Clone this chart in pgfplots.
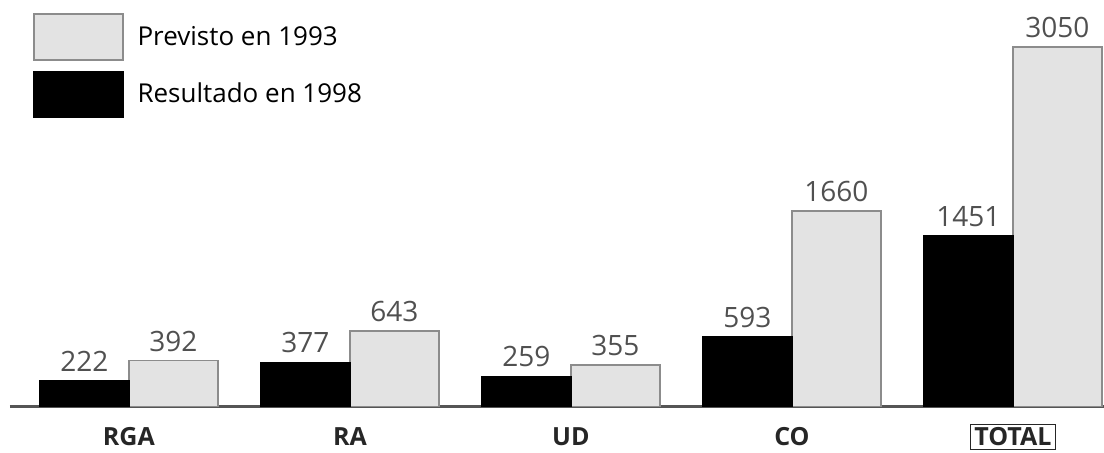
\documentclass[border=0pt]{standalone}
\usepackage{pgfplots}
\pgfplotsset{compat=1.18}
\usepackage{fontspec}
\setmainfont{Open Sans}
\definecolor{barlight}{HTML}{E3E3E3}
\definecolor{baredge}{HTML}{8C8C8C}
\definecolor{numgray}{HTML}{505050}
\definecolor{axisgray}{HTML}{555555}
\pgfplotsset{boxlegend/.style={legend image code/.code={\draw[##1] (0pt,-11.5pt) rectangle (44.5pt,11.5pt);}}}
\begin{document}
\begin{tikzpicture}
\useasboundingbox (0,0) rectangle (552pt,226.5pt);
\begin{axis}[
  at={(5pt,23pt)}, anchor=south west,
  scale only axis, width=547pt, height=203.5pt,
  xmin=-0.538, xmax=4.412, ymin=0, ymax=3448,
  axis x line*=bottom, axis y line=none,
  x axis line style={line width=1.5pt, color=axisgray},
  xtick={0,1,2,3,4},
  xticklabels={RGA,RA,UD,CO,{\setlength{\fboxsep}{1.5pt}\setlength{\fboxrule}{0.6pt}\fbox{TOTAL}}},
  major tick length=0pt,
  xticklabel style={font=\fontsize{12.5}{14}\selectfont\bfseries, text=black!85, anchor=center, yshift=-15pt},
  ytick=\empty,
  /pgf/number format/assume math mode=true,
  /pgf/number format/1000 sep={},
  nodes near coords,
  every node near coord/.append style={font=\fontsize{14}{16}\selectfont, text=numgray, yshift=1pt},
  legend style={at={(0.021,0.968)}, anchor=north west, draw=none, fill=none,
    font=\fontsize{13}{15}\selectfont, row sep=5pt, inner sep=0pt, cells={anchor=west},
    /tikz/every odd column/.append style={column sep=5pt}},
]
\addplot[ybar, bar width=44.5pt, bar shift=22.25pt, fill=barlight, draw=baredge, line width=0.6pt, boxlegend,
  every node near coord/.append style={xshift=22.25pt}]
  coordinates {(0,392) (1,643) (2,355) (3,1660) (4,3050)};
\addlegendentry{Previsto en 1993}
\addplot[ybar, bar width=44.5pt, bar shift=-22.25pt, fill=black, draw=black, line width=0.6pt, boxlegend,
  every node near coord/.append style={xshift=-22.25pt}]
  coordinates {(0,222) (1,377) (2,259) (3,593) (4,1451)};
\addlegendentry{Resultado en 1998}
\end{axis}
\end{tikzpicture}
\end{document}
